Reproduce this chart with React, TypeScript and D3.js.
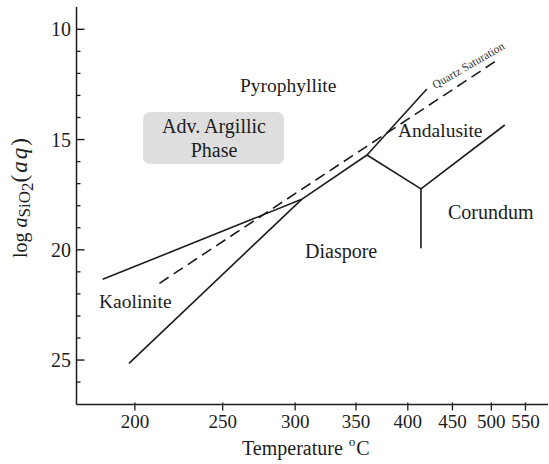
import * as d3 from "d3";

// temperature ticks (°C) and log aSiO2 ticks
const xTicks = [200, 250, 300, 350, 400, 450, 500, 550];
const yMajor = [10, 15, 20, 25];
const yMinor = [11, 12, 13, 14, 16, 17, 18, 19, 21, 22, 23, 24, 26];

// phase boundaries as [T °C, -log aSiO2]
const kaolPyro: [number, number][] = [[184, 21.34], [305, 17.71]];
const kaolDiaspore: [number, number][] = [[197, 25.15], [305, 17.71]];
const pyroDiaspore: [number, number][] = [[305, 17.71], [360, 15.7]];
const pyroAndalusite: [number, number][] = [[360, 15.7], [420.5, 12.71]];
const andDiaspore: [number, number][] = [[360, 15.7], [414, 17.24]];
const diaCorundum: [number, number][] = [[414, 17.24], [414, 19.93]];
const andCorundum: [number, number][] = [[414, 17.24], [519, 14.34]];
const quartzSat: [number, number][] = [[213, 21.52], [510, 11.36]];

const boundaries = [kaolPyro, kaolDiaspore, pyroDiaspore, pyroAndalusite, andDiaspore, diaCorundum, andCorundum];

const W = 549;
const H = 464;
const FONT = "'Liberation Serif', 'Times New Roman', serif";
const INK = "#1c1c1c";

// x axis is linear in 1/T (K)
const invT = (t: number) => 1000 / (t + 273.15);
const xInv = d3.scaleLinear().domain([invT(171.5), invT(585)]).range([76, 547]);
const x = (t: number) => xInv(invT(t));
const y = d3.scaleLinear().domain([9, 27]).range([7.25, 404.15]);

const line = d3
  .line<[number, number]>()
  .x((d) => x(d[0]))
  .y((d) => y(d[1]));

export default function App() {
  const x0 = 76.5;
  const y0 = 404.5;
  return (
    <svg
      width={W}
      height={H}
      style={{ position: "absolute", left: 0, top: 0, background: "#fff" }}
      fontFamily={FONT}
    >
      {/* axes */}
      <line x1={x0} x2={x0} y1={7} y2={y0} stroke={INK} strokeWidth={1.5} />
      <line x1={x0} x2={548} y1={y0} y2={y0} stroke={INK} strokeWidth={1.5} />

      {yMajor.map((v) => (
        <g key={"ym" + v}>
          <line x1={x0} x2={x0 + 8} y1={y(v)} y2={y(v)} stroke={INK} strokeWidth={1.4} />
          <text x={71} y={y(v)} dy="0.35em" textAnchor="end" fontSize={20} fill={INK}>
            {v}
          </text>
        </g>
      ))}
      {yMinor.map((v) => (
        <line key={"yn" + v} x1={x0} x2={x0 + 4} y1={y(v)} y2={y(v)} stroke={INK} strokeWidth={1.3} />
      ))}

      {xTicks.map((t) => (
        <g key={"xt" + t}>
          <line x1={x(t)} x2={x(t)} y1={y0 - 2} y2={y0 + 6} stroke={INK} strokeWidth={1.3} />
          <text x={x(t)} y={428} textAnchor="middle" fontSize={19} fill={INK}>
            {t}
          </text>
        </g>
      ))}

      {/* axis titles */}
      <text x={242} y={455} fontSize={20} fill={INK}>
        Temperature
        <tspan dx={6} dy={-9} fontSize={13}>o</tspan>
        <tspan dx={1} dy={9}>C</tspan>
      </text>
      <text transform="translate(27,258) rotate(-90)" fontSize={20} fill={INK}>
        log{" "}
        <tspan fontStyle="italic">a</tspan>
        <tspan fontSize={17} dy={3}>SiO</tspan>
        <tspan fontSize={17} dy={3}>2</tspan>
        <tspan fontSize={23} dy={-6} letterSpacing={2}>
          (<tspan fontStyle="italic">aq</tspan>)
        </tspan>
      </text>

      {/* advanced argillic box */}
      <rect x={143} y={112} width={141} height={52} rx={7} fill="#dedede" />
      <text x={214} y={133} textAnchor="middle" fontSize={20} fill={INK}>
        Adv. Argillic
      </text>
      <text x={214} y={157} textAnchor="middle" fontSize={20} fill={INK}>
        Phase
      </text>

      {/* boundaries */}
      {boundaries.map((b, i) => (
        <path key={"b" + i} d={line(b) ?? ""} fill="none" stroke={INK} strokeWidth={1.6} />
      ))}
      <path d={line(quartzSat) ?? ""} fill="none" stroke={INK} strokeWidth={1.6} strokeDasharray="11,6" />
      <text transform="translate(435,89) rotate(-30)" fontSize={11.5} fill="#333">
        Quartz Saturation
      </text>

      {/* field labels */}
      <text x={240} y={92} fontSize={19.5} fill={INK}>Pyrophyllite</text>
      <text x={398} y={137} fontSize={19.5} fill={INK}>Andalusite</text>
      <text x={305} y={258} fontSize={20} fill={INK}>Diaspore</text>
      <text x={99} y={308} fontSize={19.5} fill={INK}>Kaolinite</text>
      <text x={448} y={219} fontSize={20} fill={INK}>Corundum</text>
    </svg>
  );
}
